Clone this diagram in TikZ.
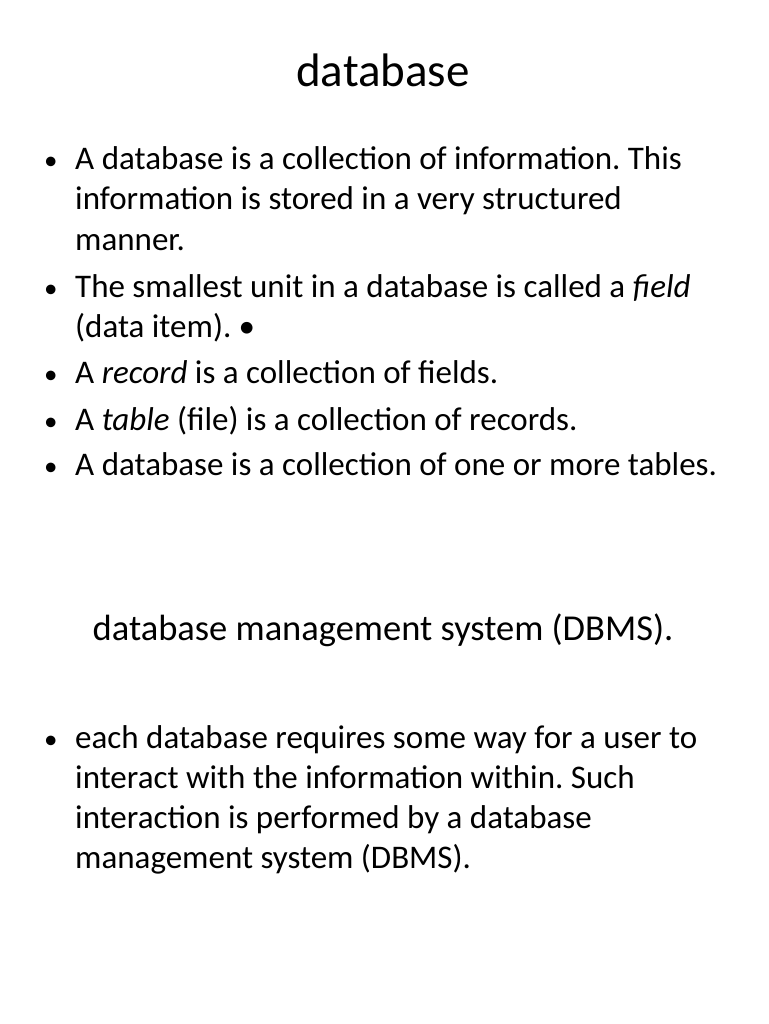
\documentclass[tikz,border=0pt]{standalone}
\usepackage{fontspec}
\setmainfont{Carlito}
\frenchspacing
\begin{document}
\begin{tikzpicture}[x=1pt,y=-1pt,
  ln/.style={anchor=base west,inner sep=0pt,font=\fontsize{33}{38}\selectfont\frenchspacing},
  bl/.style={anchor=base west,inner sep=0pt,font=\fontsize{27}{32}\selectfont}]
\useasboundingbox (0,0) rectangle (768,1024);
\node[anchor=base,inner sep=0pt,font=\fontsize{47}{50}\selectfont] (title) at (383,87) {database};
\foreach \y in {170,297,383,430,475,748} \node[bl] at (44,\y) {•};
\node[ln] (l1) at (75,170) {A database is a collection of information. This};
\node[ln] (l2) at (75,210) {information is stored in a very structured};
\node[ln] (l3) at (75,250) {manner.};
\node[ln] (l4) at (75,297) {The smallest unit in a database is called a \textit{field}};
\node[ln] (l5) at (75,337) {(data item). •};
\node[ln] (l6) at (75,383) {A \textit{record} is a collection of fields.};
\node[ln] (l7) at (75,430) {A \textit{table} (file) is a collection of records.};
\node[ln] (l8) at (75,475) {A database is a collection of one or more tables.};
\node[anchor=base,inner sep=0pt,font=\fontsize{36.5}{40}\selectfont] (h2) at (383,640) {database management system (DBMS).};
\node[ln] (m1) at (75,748) {each database requires some way for a user to};
\node[ln] (m2) at (75,788) {interact with the information within. Such};
\node[ln] (m3) at (75,828) {interaction is performed by a database};
\node[ln] (m4) at (75,868) {management system (DBMS).};
\end{tikzpicture}
\end{document}
